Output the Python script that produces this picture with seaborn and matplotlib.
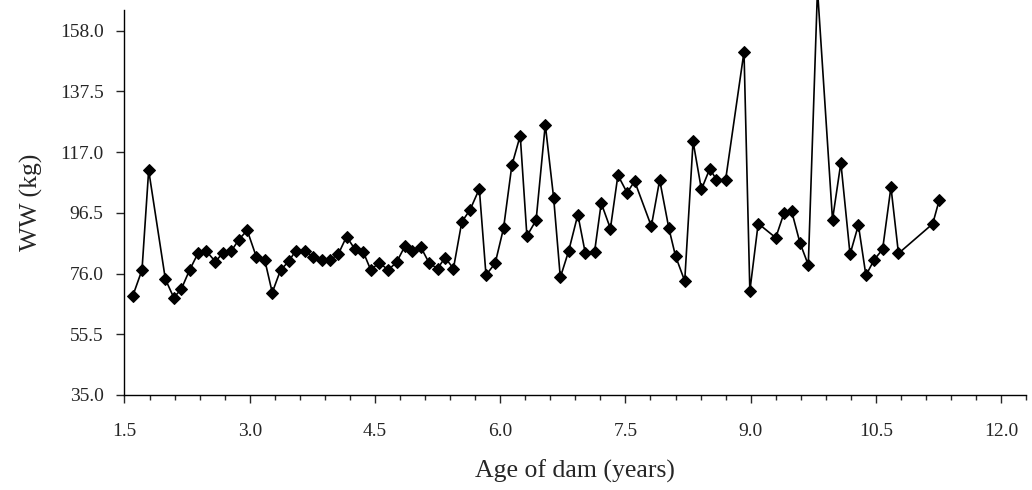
import numpy as np
import pandas as pd
import matplotlib
matplotlib.use("Agg")
import matplotlib.pyplot as plt
from matplotlib.ticker import MultipleLocator, FormatStrFormatter
import seaborn as sns

# Age of dam (years) and weaning weight (kg)
age = [1.60, 1.71, 1.79, 1.99, 2.09, 2.18, 2.28, 2.38, 2.48, 2.59,
       2.68, 2.78, 2.87, 2.97, 3.08, 3.18, 3.27, 3.37, 3.47, 3.55,
       3.66, 3.76, 3.86, 3.96, 4.06, 4.16, 4.26, 4.36, 4.45, 4.55,
       4.66, 4.76, 4.86, 4.94, 5.05, 5.15, 5.25, 5.34, 5.44, 5.54,
       5.64, 5.75, 5.83, 5.94, 6.04, 6.14, 6.24, 6.32, 6.43, 6.54,
       6.64, 6.72, 6.82, 6.93, 7.02, 7.13, 7.21, 7.32, 7.41, 7.52,
       7.61, 7.81, 7.91, 8.02, 8.10, 8.21, 8.31, 8.41, 8.51, 8.59,
       8.70, 8.92, 8.99, 9.09, 9.30, 9.40, 9.49, 9.59, 9.69, 9.80,
       9.98, 10.08, 10.19, 10.29, 10.38, 10.48, 10.58, 10.68, 10.77, 11.18,
       11.26]
ww = [68.5, 77.2, 110.9, 74.1, 67.9, 70.7, 77.2, 82.8, 83.6, 80.0,
      83.1, 83.6, 87.5, 90.6, 81.6, 80.6, 69.6, 77.2, 80.2, 83.7,
      83.6, 81.7, 80.6, 80.6, 82.5, 88.5, 84.2, 83.3, 77.2, 79.7,
      77.2, 79.9, 85.3, 83.6, 84.9, 79.5, 77.7, 81.4, 77.7, 93.4,
      97.6, 104.6, 75.5, 79.5, 91.3, 112.6, 122.6, 88.7, 94.0, 126.3,
      101.6, 74.7, 83.6, 95.9, 82.8, 83.3, 99.8, 91.2, 109.2, 103.3,
      107.2, 92.0, 107.6, 91.3, 81.9, 73.5, 120.6, 104.4, 111.4, 107.7,
      107.7, 150.9, 70.1, 92.9, 88.1, 96.5, 97.1, 86.4, 78.9, 172.0,
      94.2, 113.4, 82.5, 92.4, 75.4, 80.7, 84.2, 105.2, 82.8, 92.8,
      101.0]

df = pd.DataFrame({"age": age, "ww": ww})

sns.set_style("ticks")
plt.rcParams["font.family"] = ["Liberation Serif", "DejaVu Serif"]

fig = plt.figure(figsize=(10.32, 4.9), dpi=100)
ax = fig.add_axes([0.1206, 0.1939, 0.8738, 0.7857])

sns.lineplot(data=df, x="age", y="ww", sort=False, estimator=None, ax=ax,
             color="black", linewidth=1.2, marker="D", markersize=6.5,
             markeredgecolor="black", clip_on=False)

ax.set_xlim(1.5, 12.3)
ax.set_ylim(35, 165)
ax.xaxis.set_major_locator(MultipleLocator(1.5))
ax.xaxis.set_minor_locator(MultipleLocator(0.3))
ax.xaxis.set_major_formatter(FormatStrFormatter("%.1f"))
ax.yaxis.set_major_formatter(FormatStrFormatter("%.1f"))
ax.set_yticks(np.arange(35, 160, 20.5))

ax.tick_params(axis="x", which="major", length=6, width=1, pad=14, labelsize=14)
ax.tick_params(axis="x", which="minor", length=3.5, width=1)
ax.tick_params(axis="y", which="major", length=6, width=1, pad=9, labelsize=14)

ax.set_xlabel("Age of dam (years)", fontsize=18.5, labelpad=14)
ax.set_ylabel("WW (kg)", fontsize=18.5, labelpad=12)

sns.despine(ax=ax)
for s in ["left", "bottom"]:
    ax.spines[s].set_color("black")
    ax.spines[s].set_linewidth(1)

fig.savefig("out.png", dpi=100)
